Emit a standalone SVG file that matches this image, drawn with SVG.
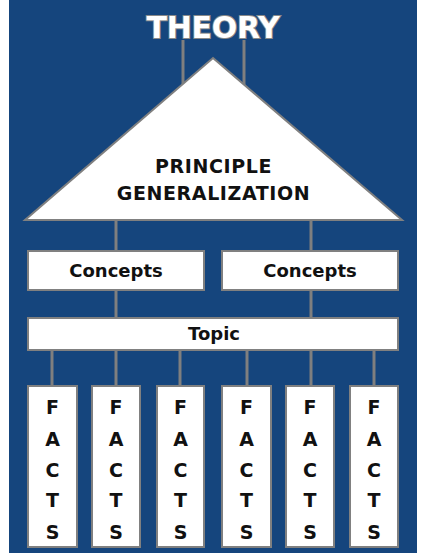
<svg xmlns="http://www.w3.org/2000/svg" width="429" height="555" viewBox="0 0 429 555">
<style>
.box{fill:#ffffff;stroke:#808080;stroke-width:2}
.ln{stroke:#7f7f7f;stroke-width:3;fill:none}
.t{font-family:"DejaVu Sans",sans-serif;font-weight:bold;fill:#111111;text-anchor:middle}
.f{font-size:19px}
</style>
<rect x="0" y="0" width="429" height="555" fill="#ffffff"/>
<rect x="9" y="0" width="408" height="553" fill="#15457d"/>
<g id="connectors">
<line class="ln" x1="183" y1="40" x2="183" y2="110"/>
<line class="ln" x1="244" y1="40" x2="244" y2="110"/>
<line class="ln" x1="116" y1="220" x2="116" y2="318"/>
<line class="ln" x1="311" y1="220" x2="311" y2="318"/>
<line class="ln" x1="52" y1="350" x2="52" y2="386"/>
<line class="ln" x1="116" y1="350" x2="116" y2="386"/>
<line class="ln" x1="180" y1="350" x2="180" y2="386"/>
<line class="ln" x1="247" y1="350" x2="247" y2="386"/>
<line class="ln" x1="311" y1="350" x2="311" y2="386"/>
<line class="ln" x1="374" y1="350" x2="374" y2="386"/>
</g>
<g id="theory">
<text x="213" y="38" font-family="DejaVu Sans, sans-serif" font-weight="bold" font-size="30" fill="#ffffff" stroke="#8a8a8a" stroke-width="2" paint-order="stroke" text-anchor="middle" letter-spacing="-0.3">THEORY</text>
</g>
<g id="principle">
<polygon points="213,58 402,220 25,220" fill="#ffffff" stroke="#808080" stroke-width="2"/>
<text class="t" x="213.5" y="173" font-size="19" letter-spacing="0.6">PRINCIPLE</text>
<text class="t" x="213.5" y="200" font-size="19" letter-spacing="0.6">GENERALIZATION</text>
</g>
<g id="concepts1">
<rect class="box" x="28" y="251" width="176" height="39"/>
<text class="t" x="116" y="277" font-size="18">Concepts</text>
</g>
<g id="concepts2">
<rect class="box" x="222" y="251" width="176" height="39"/>
<text class="t" x="310" y="277" font-size="18">Concepts</text>
</g>
<g id="topic">
<rect class="box" x="28" y="318" width="370" height="32"/>
<text class="t" x="214" y="340" font-size="18">Topic</text>
</g>
<g id="facts1">
<rect class="box" x="28" y="386" width="49" height="161"/>
<text class="t f" x="52.5" y="414">F</text><text class="t f" x="52.5" y="446">A</text><text class="t f" x="52.5" y="477">C</text><text class="t f" x="52.5" y="507">T</text><text class="t f" x="52.5" y="539">S</text>
</g>
<g id="facts2">
<rect class="box" x="92" y="386" width="48" height="161"/>
<text class="t f" x="116" y="414">F</text><text class="t f" x="116" y="446">A</text><text class="t f" x="116" y="477">C</text><text class="t f" x="116" y="507">T</text><text class="t f" x="116" y="539">S</text>
</g>
<g id="facts3">
<rect class="box" x="157" y="386" width="47" height="161"/>
<text class="t f" x="180.5" y="414">F</text><text class="t f" x="180.5" y="446">A</text><text class="t f" x="180.5" y="477">C</text><text class="t f" x="180.5" y="507">T</text><text class="t f" x="180.5" y="539">S</text>
</g>
<g id="facts4">
<rect class="box" x="222" y="386" width="49" height="161"/>
<text class="t f" x="246.5" y="414">F</text><text class="t f" x="246.5" y="446">A</text><text class="t f" x="246.5" y="477">C</text><text class="t f" x="246.5" y="507">T</text><text class="t f" x="246.5" y="539">S</text>
</g>
<g id="facts5">
<rect class="box" x="286" y="386" width="48" height="161"/>
<text class="t f" x="310" y="414">F</text><text class="t f" x="310" y="446">A</text><text class="t f" x="310" y="477">C</text><text class="t f" x="310" y="507">T</text><text class="t f" x="310" y="539">S</text>
</g>
<g id="facts6">
<rect class="box" x="350" y="386" width="48" height="161"/>
<text class="t f" x="374" y="414">F</text><text class="t f" x="374" y="446">A</text><text class="t f" x="374" y="477">C</text><text class="t f" x="374" y="507">T</text><text class="t f" x="374" y="539">S</text>
</g>
</svg>
